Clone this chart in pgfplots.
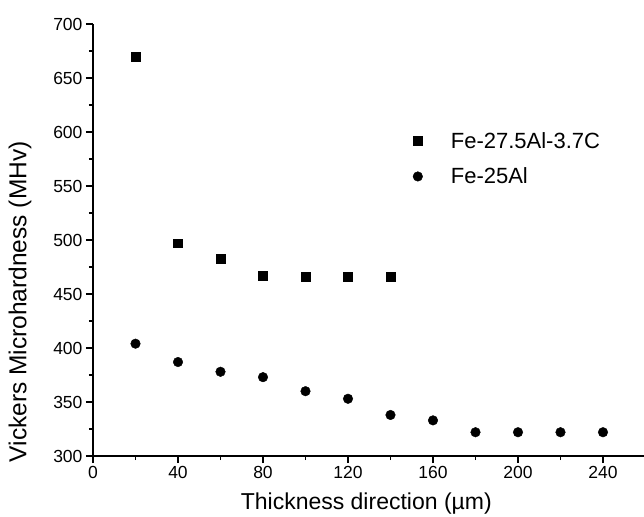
\documentclass[border=0pt]{standalone}
\usepackage{pgfplots}
\pgfplotsset{compat=1.18}
\usepackage{fontspec}
\setmainfont{Liberation Sans}
\begin{document}
\begin{tikzpicture}
\begin{axis}[
  at={(0,0)}, anchor=south west,
  scale only axis, width=551pt, height=432pt,
  xmin=0, xmax=259.3, ymin=300, ymax=700,
  axis x line*=bottom, axis y line*=left,
  axis line style={line width=1.3pt},
  every tick/.style={line width=1.1pt, black},
  tick align=outside,
  major tick length=7pt, minor tick length=4pt,
  xtick={0,40,...,240}, minor xtick={20,60,...,260},
  ytick={300,350,...,700}, minor ytick={325,375,...,675},
  /pgf/number format/assume math mode=true,
  tick label style={font=\fontsize{17.5}{20}\selectfont},
  xlabel={Thickness direction (\textmu m)},
  ylabel={Vickers Microhardness (MHv)},
  xlabel style={font=\fontsize{23}{26}\selectfont, at={(axis description cs:0.496,-0.11)}, anchor=center},
  ylabel style={font=\fontsize{24.5}{27}\selectfont, at={(axis description cs:-0.1325,0.357)}, anchor=center},
  legend style={draw=none, fill=none, at={(axis description cs:0.575,0.759)}, anchor=north west,
    font=\fontsize{22}{25}\selectfont, row sep=14pt, legend cell align=left},
  legend image code/.code={\path[draw=none] (0pt,0pt) -- (31pt,0pt); \draw[#1] plot coordinates {(0pt,0pt)};},
]
\addplot[only marks, mark=square*, mark size=4.4pt, black] coordinates {
(20,670) (40,497) (60,483) (80,467) (100,466) (120,466) (140,466)
};
\addlegendentry{Fe-27.5Al-3.7C}
\addplot[only marks, mark=*, mark size=4.8pt, black] coordinates {
(20,404) (40,387) (60,378) (80,373) (100,360) (120,353) (140,338) (160,333) (180,322) (200,322) (220,322) (240,322)
};
\addlegendentry{Fe-25Al}
\end{axis}
\pgfresetboundingbox
\path (-93pt,-60pt) rectangle (551pt,456pt);
\end{tikzpicture}
\end{document}
